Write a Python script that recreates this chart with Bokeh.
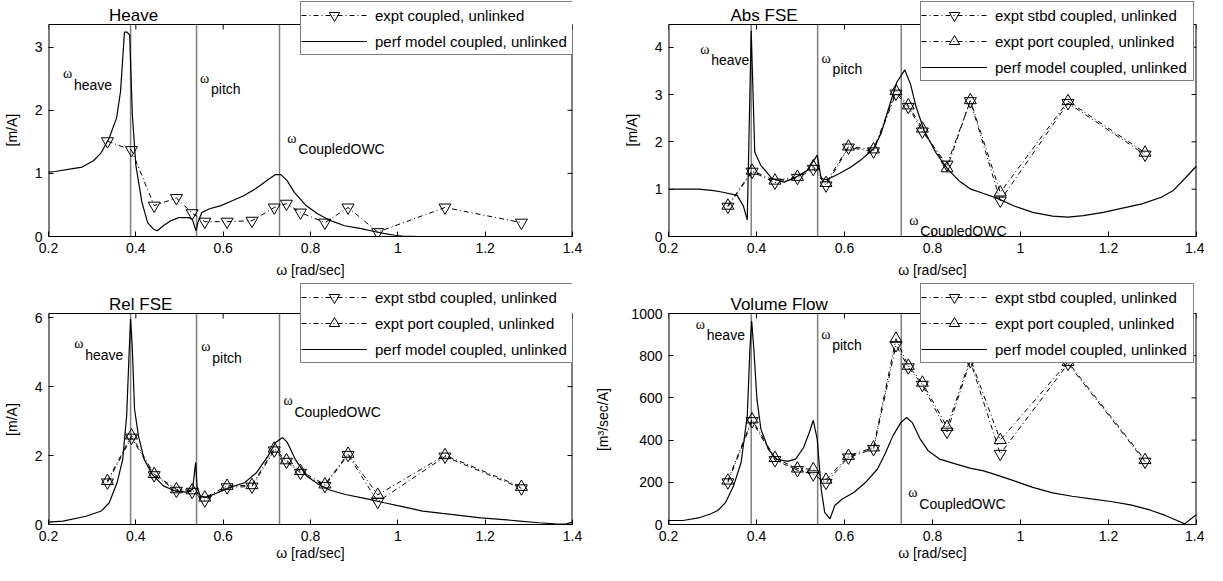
import math
from bokeh.plotting import figure
from bokeh.models import Range1d, FixedTicker, Label, Legend, LegendItem
from bokeh.layouts import column, row
from bokeh.embed import file_html
from bokeh.resources import INLINE

FONT = "Liberation Sans"
SERIF = "Liberation Serif"

# ---------------- data ----------------
omega_expt = [0.335, 0.39, 0.442, 0.493, 0.529, 0.558, 0.609, 0.666,
              0.717, 0.745, 0.777, 0.833, 0.886, 0.954, 1.108, 1.283]

heave_expt = [1.51, 1.37, 0.49, 0.61, 0.37, 0.235, 0.235, 0.25,
              0.46, 0.52, 0.38, 0.22, 0.46, 0.07, 0.46, 0.22]

absfse_stbd = [0.63, 1.37, 1.14, 1.24, 1.43, 1.08, 1.88, 1.80,
               3.02, 2.74, 2.22, 1.52, 2.86, 0.76, 2.82, 1.73]
absfse_port = [0.65, 1.39, 1.18, 1.26, 1.48, 1.13, 1.90, 1.84,
               3.07, 2.77, 2.28, 1.44, 2.88, 0.93, 2.86, 1.77]

relfse_stbd = [1.22, 2.52, 1.43, 0.98, 0.95, 0.70, 1.08, 1.10,
               2.15, 1.82, 1.50, 1.12, 2.02, 0.66, 1.97, 1.05]
relfse_port = [1.26, 2.58, 1.46, 1.02, 0.99, 0.78, 1.12, 1.14,
               2.20, 1.86, 1.55, 1.16, 2.05, 0.86, 2.01, 1.09]

vol_stbd = [200, 490, 305, 258, 238, 198, 318, 358,
            850, 745, 662, 440, 775, 335, 762, 298]
vol_port = [208, 498, 315, 265, 262, 212, 325, 365,
            880, 752, 672, 462, 785, 400, 770, 305]

heave_model_x = [0.2, 0.215, 0.259, 0.277, 0.303, 0.321, 0.339, 0.356, 0.365, 0.374, 0.380, 0.386,
                 0.392, 0.400, 0.414, 0.427, 0.440, 0.449, 0.463, 0.480, 0.498, 0.520, 0.529, 0.538,
                 0.542, 0.551, 0.569, 0.595, 0.622, 0.648, 0.675, 0.701, 0.719, 0.732, 0.746, 0.763,
                 0.790, 0.816, 0.843, 0.878, 0.913, 0.949, 0.967, 0.993, 1.01, 1.05, 1.2, 1.4]
heave_model_y = [1.02, 1.03, 1.08, 1.10, 1.20, 1.33, 1.56, 1.88, 2.30, 3.24, 3.24, 3.19,
                 1.93, 1.13, 0.54, 0.22, 0.12, 0.09, 0.17, 0.25, 0.30, 0.30, 0.28, 0.09,
                 0.22, 0.38, 0.44, 0.49, 0.57, 0.65, 0.76, 0.89, 0.98, 0.98, 0.89, 0.70,
                 0.49, 0.36, 0.26, 0.17, 0.13, 0.075, 0.05, 0.02, 0.005, 0.0, 0.0, 0.0]

absfse_model_x = [0.2, 0.268, 0.303, 0.321, 0.356, 0.37, 0.379, 0.388, 0.396, 0.41, 0.436, 0.463,
                  0.489, 0.516, 0.538, 0.547, 0.56, 0.586, 0.613, 0.64, 0.666, 0.684, 0.7, 0.719,
                  0.737, 0.75, 0.763, 0.781, 0.807, 0.834, 0.86, 0.887, 0.913, 0.949, 0.984, 1.028,
                  1.073, 1.108, 1.143, 1.188, 1.232, 1.276, 1.32, 1.347, 1.373, 1.4]
absfse_model_y = [1.0, 1.0, 0.97, 0.94, 0.87, 0.65, 0.35, 4.35, 1.78, 1.5, 1.22, 1.15,
                  1.25, 1.4, 1.72, 1.22, 1.2, 1.32, 1.46, 1.64, 1.85, 2.2, 2.7, 3.26,
                  3.52, 3.22, 2.73, 2.24, 1.78, 1.43, 1.18, 1.0, 0.92, 0.8, 0.65, 0.51,
                  0.43, 0.41, 0.44, 0.51, 0.6, 0.69, 0.83, 0.97, 1.22, 1.49]

relfse_model_x = [0.2, 0.233, 0.286, 0.321, 0.339, 0.357, 0.37, 0.379, 0.385, 0.388, 0.392, 0.397,
                  0.406, 0.419, 0.437, 0.463, 0.49, 0.516, 0.53, 0.537, 0.54, 0.547, 0.56, 0.587,
                  0.614, 0.649, 0.676, 0.703, 0.72, 0.736, 0.747, 0.765, 0.791, 0.818, 0.844, 0.88,
                  0.924, 0.969, 1.013, 1.057, 1.102, 1.146, 1.19, 1.235, 1.279, 1.323, 1.359, 1.385, 1.4]
relfse_model_y = [0.07, 0.1, 0.24, 0.39, 0.63, 1.21, 1.89, 3.16, 5.1, 5.97, 5.1, 3.35,
                  2.57, 1.89, 1.46, 1.12, 0.97, 0.94, 1.02, 1.8, 1.12, 0.83, 0.78, 0.92,
                  1.07, 1.21, 1.5, 1.99, 2.38, 2.52, 2.38, 1.89, 1.41, 1.17, 1.0, 0.87,
                  0.76, 0.63, 0.51, 0.39, 0.32, 0.26, 0.19, 0.15, 0.1, 0.05, 0.02, 0.01, 0.07]

vol_model_x = [0.2, 0.233, 0.268, 0.295, 0.312, 0.33, 0.348, 0.365, 0.379, 0.385, 0.389, 0.394,
               0.401, 0.41, 0.427, 0.445, 0.471, 0.489, 0.507, 0.52, 0.529, 0.538, 0.547, 0.555,
               0.567, 0.578, 0.595, 0.622, 0.648, 0.675, 0.692, 0.71, 0.728, 0.741, 0.754, 0.772,
               0.79, 0.816, 0.852, 0.887, 0.914, 0.94, 0.984, 1.028, 1.073, 1.117, 1.161, 1.205,
               1.25, 1.294, 1.329, 1.356, 1.373, 1.4]
vol_model_y = [19, 19, 31, 50, 66, 105, 184, 294, 515, 830, 964, 830,
               594, 452, 357, 310, 299, 310, 365, 436, 494, 405, 168, 58,
               27, 90, 121, 153, 200, 263, 334, 420, 483, 507, 483, 405,
               350, 310, 287, 266, 255, 239, 208, 176, 150, 134, 121, 109,
               93, 69, 43, 19, 3, 47]

x_limits = [0.2, 1.4]
x_ticks = [0.2, 0.4, 0.6, 0.8, 1.0, 1.2, 1.4]
x_tick_labels = ["0.2", "0.4", "0.6", "0.8", "1", "1.2", "1.4"]
heave_yticks = [0, 1, 2, 3]
absfse_yticks = [0, 1, 2, 3, 4]
relfse_yticks = [0, 2, 4, 6]
vol_yticks = [0, 200, 400, 600, 800, 1000]

omega_lines = [0.388, 0.539, 0.729]
omega_names = ["heave", "pitch", "CoupledOWC"]

titles = ["Heave", "Abs FSE", "Rel FSE", "Volume Flow"]
y_labels = ["[m/A]", "[m/A]", "[m/A]", "[m³/sec/A]"]
legend_labels = ["expt coupled, unlinked", "expt stbd coupled, unlinked",
                 "expt port coupled, unlinked", "perf model coupled, unlinked"]

# ---------------- layout constants (pixels) ----------------
FRAME_W = 528
NBSP = "\u00a0"


def style_axis(ax):
    ax.major_tick_in = 5
    ax.major_tick_out = 0
    ax.minor_tick_line_color = None
    ax.major_tick_line_color = "black"
    ax.major_label_text_font = FONT
    ax.major_label_text_font_size = "14px"
    ax.major_label_text_color = "black"
    ax.axis_label_text_font = FONT
    ax.axis_label_text_font_size = "14px"
    ax.axis_label_text_font_style = "normal"
    ax.axis_label_text_color = "black"


def make_panel(width, height, bl, br, bt, bb, frame_h, box_h, ymax, yticks, title, title_offset,
               ylabel, ylabel_pad, ylabel_standoff, xlabel_standoff):
    # frame is taller than the axes box so that the legend may overhang the box top
    y_end = ymax * frame_h / box_h
    ppu = box_h / ymax
    overrides = {(int(t) if float(t).is_integer() else t): lab for t, lab in zip(x_ticks, x_tick_labels)}
    p = figure(width=width, height=height, x_range=Range1d(*x_limits), y_range=Range1d(0, y_end),
               output_backend="svg", toolbar_location=None, title=None,
               min_border_left=bl, min_border_right=br, min_border_top=bt, min_border_bottom=bb)
    p.xgrid.visible = False
    p.ygrid.visible = False
    p.outline_line_color = None
    p.background_fill_color = "white"
    p.border_fill_color = "white"

    xa = p.xaxis[0]
    xa.ticker = FixedTicker(ticks=x_ticks)
    xa.major_label_overrides = overrides
    xa.axis_label = "ω [rad/sec]"
    xa.major_label_standoff = 6
    xa.axis_label_standoff = xlabel_standoff
    xa.axis_line_color = "black"
    style_axis(xa)

    ya = p.yaxis[0]
    ya.ticker = FixedTicker(ticks=yticks)
    ya.axis_label = ylabel + NBSP * ylabel_pad
    ya.major_label_standoff = 6
    ya.axis_label_standoff = ylabel_standoff
    ya.axis_line_color = None
    style_axis(ya)

    # omega marker lines
    n = len(omega_lines)
    p.segment(x0=omega_lines, y0=[0] * n, x1=omega_lines, y1=[ymax] * n,
              line_color="#7f7f7f", line_width=1.5)

    # axes box: left/right edges, top edge, inward ticks on top and right
    p.segment(x0=x_limits, y0=[0, 0], x1=x_limits, y1=[ymax, ymax], line_color="black", line_width=2)
    p.segment(x0=[x_limits[0]], y0=[ymax], x1=[x_limits[1]], y1=[ymax], line_color="black", line_width=1)
    p.ray(x=x_ticks, y=[ymax] * len(x_ticks), length=5, length_units="screen",
          angle=-math.pi / 2, line_color="black", line_width=1)
    p.ray(x=[x_limits[1]] * len(yticks), y=yticks, length=5, length_units="screen",
          angle=math.pi, line_color="black", line_width=1)

    # title (placed above the axes box)
    p.add_layout(Label(x=x_limits[0] + title_offset * (x_limits[1] - x_limits[0]) / FRAME_W,
                       y=ymax + 9.5 / ppu, text=title, text_font=FONT, text_font_size="17px",
                       text_baseline="alphabetic", text_align="left", text_color="black"))
    return p


def add_omega_labels(p, positions):
    for (xv, yv), name in zip(positions, omega_names):
        p.add_layout(Label(x=xv, y=yv, text="ω", text_font=SERIF, text_font_size="14px",
                           text_baseline="middle", text_align="left", text_color="black"))
        p.add_layout(Label(x=xv, y=yv, text=name, text_font=FONT, text_font_size="14px",
                           text_baseline="middle", text_align="left", text_color="black",
                           x_offset=11, y_offset=-11))


def expt_series(p, y, marker):
    ln = p.line(omega_expt, y, line_color="black", line_width=1, line_dash="5 3 1 3")
    sc = p.scatter(omega_expt, y, marker=marker, size=12, line_color="black",
                   line_width=1, fill_color=None)
    return [ln, sc]


def model_series(p, x, y):
    return [p.line(x, y, line_color="black", line_width=1.2)]


def add_legend(p, items, vx, vy):
    lg = Legend(items=[LegendItem(label=lab, renderers=r) for lab, r in items],
                location=(vx, vy), padding=0, margin=0, spacing=0,
                glyph_height=26, glyph_width=66, label_standoff=8, label_width=198,
                label_height=20,
                label_text_font=FONT, label_text_font_size="15px", label_text_color="black",
                border_line_color="black", border_line_width=1,
                background_fill_color="white", background_fill_alpha=1.0)
    p.add_layout(lg)


# ---------------- panels ----------------
# top row: frame 8..244 (236 px), axes box 32..244 (212 px)
# bottom row: frame 291..532 (241 px), axes box 321..532 (211 px)

# Heave (top-left)
p1 = make_panel(592, 282, 44, 20, 0, 46, 236, 212, 3.36, heave_yticks, titles[0], 61,
                y_labels[0], 6, 12, 6)
r_e = expt_series(p1, heave_expt, "inverted_triangle")
r_m = model_series(p1, heave_model_x, heave_model_y)
add_omega_labels(p1, [(0.233, 2.58), (0.547, 2.51), (0.747, 1.56)])
add_legend(p1, [(legend_labels[0], r_e), (legend_labels[3], r_m)], 252, 181)

# Abs FSE (top-right)
p2 = make_panel(612, 282, 76, 8, 0, 46, 236, 212, 4.48, absfse_yticks, titles[1], 62,
                y_labels[1], 6, 12, 6)
r_s = expt_series(p2, absfse_stbd, "inverted_triangle")
r_p = expt_series(p2, absfse_port, "triangle")
r_m = model_series(p2, absfse_model_x, absfse_model_y)
add_omega_labels(p2, [(0.272, 3.96), (0.548, 3.77), (0.747, 0.34)])
add_legend(p2, [(legend_labels[1], r_s), (legend_labels[2], r_p), (legend_labels[3], r_m)], 252, 155)

# Rel FSE (bottom-left)
p3 = make_panel(592, 283, 44, 20, 1, 41, 241, 211, 6.12, relfse_yticks, titles[2], 61,
                y_labels[2], 8, 12, 1)
r_s = expt_series(p3, relfse_stbd, "inverted_triangle")
r_p = expt_series(p3, relfse_port, "triangle")
r_m = model_series(p3, relfse_model_x, relfse_model_y)
add_omega_labels(p3, [(0.259, 5.24), (0.55, 5.15), (0.738, 3.59)])
add_legend(p3, [(legend_labels[1], r_s), (legend_labels[2], r_p), (legend_labels[3], r_m)], 252, 161)

# Volume Flow (bottom-right)
p4 = make_panel(612, 283, 76, 8, 1, 41, 241, 211, 1000, vol_yticks, titles[3], 62,
                y_labels[3], 8, 17, 1)
r_s = expt_series(p4, vol_stbd, "inverted_triangle")
r_p = expt_series(p4, vol_port, "triangle")
r_m = model_series(p4, vol_model_x, vol_model_y)
add_omega_labels(p4, [(0.262, 950), (0.547, 901), (0.745, 150)])
add_legend(p4, [(legend_labels[1], r_s), (legend_labels[2], r_p), (legend_labels[3], r_m)], 252, 161)

layout = column(row(p1, p2), row(p3, p4))
open("out.html", "w").write(file_html(layout, INLINE))
